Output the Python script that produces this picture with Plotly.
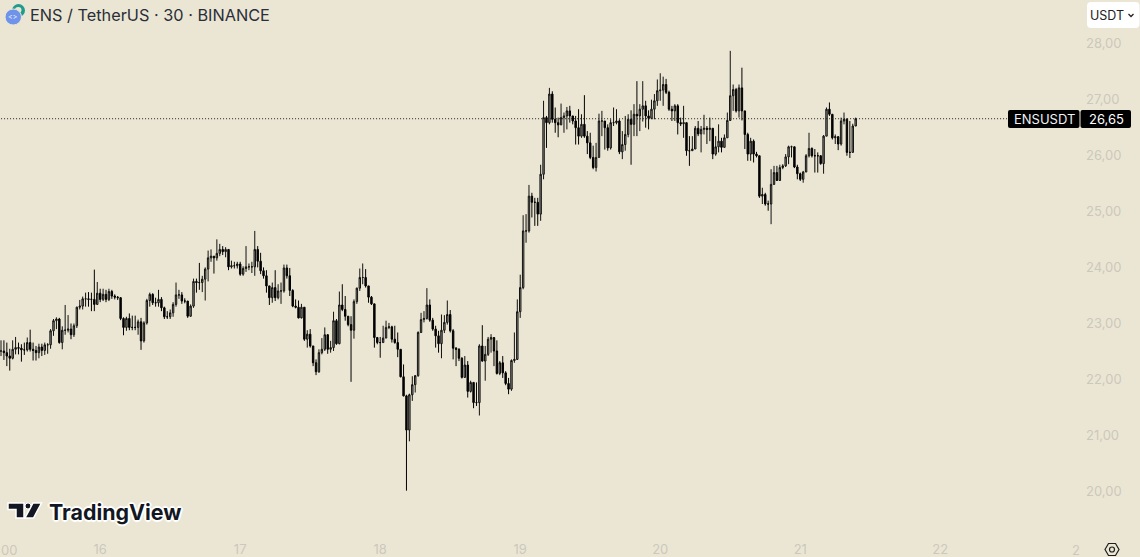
import plotly.graph_objects as go

closes = [
22.51,22.48,22.42,22.38,22.54,22.57,22.56,22.53,22.53,22.66,
22.54,22.52,22.48,22.58,22.52,22.62,22.62,22.87,23.05,23.08,
22.66,22.88,22.88,22.90,22.80,22.96,23.29,23.31,23.44,23.44,
23.43,23.43,23.34,23.54,23.43,23.52,23.43,23.57,23.49,23.47,
23.46,23.09,22.93,23.09,22.93,22.93,22.93,23.03,22.69,23.01,
23.41,23.52,23.37,23.37,23.43,23.28,23.12,23.12,23.19,23.34,
23.51,23.51,23.40,23.40,23.13,23.31,23.75,23.73,23.73,23.79,
23.97,24.17,24.20,24.17,24.25,24.32,24.28,24.32,24.01,24.03,
24.03,24.06,23.88,23.98,24.01,24.01,24.01,24.32,
24.11,23.94,23.85,23.67,23.46,23.64,23.46,23.58,23.58,23.99,
23.85,23.59,23.31,23.29,23.10,23.29,22.72,22.81,22.60,22.30,
22.14,22.48,22.54,22.80,22.54,22.57,23.05,22.64,23.33,23.25,
23.13,22.98,22.88,23.39,23.63,23.82,23.82,23.67,23.47,23.35,
22.75,22.66,22.66,22.74,22.93,22.94,22.72,22.66,22.54,22.05,
21.71,21.10,21.73,21.91,22.07,22.84,23.07,23.09,23.33,23.06,
22.90,22.78,22.64,22.88,23.02,23.16,22.87,22.56,22.54,22.38,
22.04,22.26,21.79,21.95,21.59,21.59,22.60,22.33,22.45,22.72,
22.75,22.51,22.11,22.30,22.12,21.93,21.83,22.34,22.36,23.21,23.64,
24.65,24.65,25.27,25.16,25.16,24.95,25.66,26.67,26.58,27.09,
26.64,26.58,26.54,26.67,26.70,26.79,26.70,26.61,26.49,26.34,
26.55,26.34,26.22,25.96,25.78,25.96,26.61,26.61,26.49,26.13,
26.58,26.58,26.61,26.06,26.19,26.37,26.64,26.55,26.73,26.70,
26.82,26.88,26.70,26.66,26.82,26.97,27.15,27.16,27.26,27.12,26.82,
26.79,26.88,26.58,26.56,26.58,26.08,26.08,26.11,26.48,26.38,
26.46,26.48,26.46,26.48,26.02,26.15,26.25,26.14,26.31,26.62,
27.06,27.17,26.79,27.20,26.79,26.37,26.02,26.25,26.02,25.99,
25.27,25.30,25.13,25.13,25.48,25.69,25.55,25.78,25.81,25.97,
26.15,26.15,25.79,25.67,25.57,25.70,25.99,26.12,25.99,25.99,
25.99,25.85,26.34,26.82,26.73,26.31,26.33,26.20,26.61,26.64,
26.05,26.05,26.52,26.65]

highs = [
22.70,22.70,22.66,22.55,22.70,22.76,22.66,22.63,22.66,22.75,
22.89,22.66,22.60,22.64,22.64,22.66,22.65,22.90,23.08,23.11,
23.10,22.95,23.33,23.15,23.00,23.00,23.30,23.42,23.48,23.55,
23.56,23.55,23.96,23.74,23.62,23.62,23.60,23.62,23.60,23.52,
23.49,23.47,23.11,23.12,23.18,23.14,23.14,23.07,23.10,23.04,
23.44,23.55,23.54,23.46,23.60,23.47,23.30,23.22,23.25,23.38,
23.73,23.60,23.56,23.45,23.40,23.34,23.80,23.80,24.08,23.85,
24.00,24.30,24.32,24.20,24.50,24.42,24.38,24.36,24.30,24.12,
24.10,24.10,24.10,24.02,24.38,24.07,24.10,24.65,
24.38,24.26,24.00,23.95,23.65,23.73,23.95,23.70,23.73,24.05,
24.05,23.99,23.61,23.43,23.41,23.35,23.29,22.88,22.90,22.60,
22.36,22.54,22.74,22.93,22.81,22.69,23.21,23.08,23.57,23.70,
23.49,23.13,23.13,23.43,23.64,23.98,24.07,23.97,23.67,23.49,
23.35,22.76,22.76,22.96,23.05,23.01,22.96,22.96,22.84,22.54,
22.27,21.73,21.75,22.06,22.08,22.86,23.19,23.22,23.63,23.43,
23.10,22.96,22.87,23.16,23.15,23.41,23.24,22.90,22.58,22.56,
22.40,22.42,22.33,21.98,21.95,21.95,22.63,22.97,22.60,22.76,
22.81,22.74,22.70,22.33,22.42,22.15,22.03,22.36,22.84,23.43,23.87,
24.93,24.95,25.47,25.33,25.24,25.24,25.83,26.97,26.70,27.20,
27.14,26.85,26.67,26.92,26.76,26.86,26.88,26.70,26.70,26.82,
26.73,27.07,26.43,26.40,26.17,26.22,26.74,26.79,26.61,26.55,
26.64,26.85,26.82,26.64,26.43,26.70,26.73,26.80,26.91,27.32,
26.91,27.32,26.97,26.80,26.99,27.09,27.35,27.46,27.40,27.36,27.15,
26.88,26.91,26.91,26.67,26.88,26.58,26.34,26.34,26.52,26.61,
26.52,26.72,26.52,26.67,26.48,26.34,26.55,26.31,26.37,26.76,
27.86,27.26,27.20,27.26,27.56,26.79,26.40,26.31,26.28,26.06,
25.99,25.42,25.33,25.19,25.75,25.81,25.81,25.83,25.84,26.02,
26.17,26.17,26.15,25.83,25.69,25.72,26.02,26.40,26.14,26.11,
26.05,26.00,26.36,26.85,26.94,26.73,26.37,26.34,26.67,26.76,
26.66,26.61,26.56,26.67]

lows = [
22.42,22.35,22.24,22.16,22.36,22.45,22.45,22.32,22.44,22.50,
22.50,22.34,22.34,22.38,22.42,22.44,22.46,22.55,22.78,22.90,
22.64,22.54,22.80,22.84,22.72,22.76,22.92,23.25,23.25,23.30,
23.30,23.22,23.22,23.36,23.38,23.40,23.38,23.40,23.44,23.43,
23.42,23.06,22.79,22.87,22.88,22.88,22.88,22.80,22.53,22.66,
22.98,23.30,23.33,23.30,23.30,23.22,23.08,23.08,23.08,23.12,
23.30,23.44,23.35,23.36,23.10,23.12,23.28,23.55,23.60,23.56,
23.41,23.75,24.10,23.89,24.12,24.20,24.22,24.18,23.95,23.98,
23.98,23.98,23.85,23.85,23.92,23.95,23.90,23.85,
24.00,23.88,23.80,23.55,23.33,23.37,23.40,23.43,23.35,23.55,
23.80,23.49,23.29,23.27,23.09,23.09,22.69,22.57,22.57,22.24,
22.08,22.12,22.45,22.51,22.46,22.48,22.51,22.62,22.63,23.22,
23.05,22.95,21.96,22.73,23.35,23.58,23.70,23.64,23.37,23.33,
22.57,22.63,22.39,22.69,22.74,22.90,22.66,22.64,22.40,22.04,
21.70,20.02,20.90,21.62,21.77,22.05,22.83,23.02,23.07,23.03,
22.87,22.57,22.48,22.38,22.83,22.98,22.84,22.36,22.24,22.33,
22.02,22.03,21.68,21.77,21.49,21.53,21.36,22.32,21.98,22.42,
22.48,22.24,22.09,22.08,22.03,21.90,21.74,21.80,22.30,22.35,23.10,
23.61,24.44,24.62,24.89,24.74,24.74,24.83,25.57,26.13,26.55,
26.58,26.40,26.32,26.55,26.40,26.46,26.58,26.55,26.19,26.19,
26.31,26.31,26.02,25.93,25.75,25.71,25.96,26.34,26.10,26.08,
26.10,26.52,26.55,26.02,25.93,26.08,26.32,25.83,26.34,26.34,
26.43,26.60,26.49,26.46,26.64,26.64,26.88,26.97,26.88,27.09,26.79,
26.61,26.61,26.37,26.52,26.31,25.99,25.81,26.08,26.20,26.34,
26.05,26.37,26.20,26.25,25.93,25.99,26.05,26.05,26.14,26.31,
26.61,26.79,26.76,26.67,26.62,26.11,25.90,25.90,25.87,25.96,
25.24,25.13,25.10,25.01,24.77,25.47,25.54,25.54,25.75,25.79,
25.84,25.96,25.77,25.57,25.54,25.51,25.70,25.96,25.96,25.69,
25.69,25.83,25.67,26.34,26.70,26.28,26.20,26.09,26.17,26.55,
25.99,25.95,26.33,26.52]

price_ticks = [20, 21, 22, 23, 24, 25, 26, 27, 28]
day_bars = [34, 82, 130, 178, 226, 274, 322]
day_labels = ["16", "17", "18", "19", "20", "21", "22"]
last_price = 26.65

assert len(closes) == len(highs) == len(lows), (len(closes), len(highs), len(lows))
bars = list(range(len(closes)))
opens = [closes[0]] + closes[:-1]
highs = [max(h, o, c) for h, o, c in zip(highs, opens, closes)]
lows = [min(l, o, c) for l, o, c in zip(lows, opens, closes)]

BG = "#ebe6d3"
PLOT_R = 1085.0
PLOT_B = 540.0
FONT = "Inter, Roboto, sans-serif"
TICK = "#cbc8bd"

def fx(x):
    return x / PLOT_R

def fy(y):
    return (PLOT_B - y) / PLOT_B

def path(points):
    return "M" + " L".join(f"{fx(x):.5f},{fy(y):.5f}" for x, y in points) + " Z"

def rounded(x0, y0, x1, y1, r):
    return (f"M{fx(x0 + r):.5f},{fy(y0):.5f} L{fx(x1 - r):.5f},{fy(y0):.5f} "
            f"Q{fx(x1):.5f},{fy(y0):.5f} {fx(x1):.5f},{fy(y0 + r):.5f} "
            f"L{fx(x1):.5f},{fy(y1 - r):.5f} Q{fx(x1):.5f},{fy(y1):.5f} {fx(x1 - r):.5f},{fy(y1):.5f} "
            f"L{fx(x0 + r):.5f},{fy(y1):.5f} Q{fx(x0):.5f},{fy(y1):.5f} {fx(x0):.5f},{fy(y1 - r):.5f} "
            f"L{fx(x0):.5f},{fy(y0 + r):.5f} Q{fx(x0):.5f},{fy(y0):.5f} {fx(x0 + r):.5f},{fy(y0):.5f} Z")

fig = go.Figure(go.Candlestick(
    x=bars, open=opens, high=highs, low=lows, close=closes,
    increasing=dict(line=dict(color="#111111", width=1), fillcolor="#9a988e"),
    decreasing=dict(line=dict(color="#000000", width=1), fillcolor="#000000"),
    hoverinfo="skip", showlegend=False,
))

shapes = [
    dict(type="line", xref="x", yref="y", x0=-1, x1=(1007 - 1) / 2.917, y0=last_price, y1=last_price,
         line=dict(color="#222222", width=1, dash="1px,2px"), layer="above"),
    dict(type="path", xref="paper", yref="paper", path=rounded(1087, 2, 1139.5, 28, 4),
         fillcolor="#ffffff", line=dict(width=0), layer="above"),
    dict(type="path", xref="paper", yref="paper",
         path=f"M{fx(1128.5):.5f},{fy(14):.5f} L{fx(1131):.5f},{fy(16.5):.5f} L{fx(1133.5):.5f},{fy(14):.5f}",
         line=dict(color="#222222", width=1.3), layer="above"),
    dict(type="path", xref="paper", yref="paper", path=rounded(1008, 110, 1079.5, 128, 2),
         fillcolor="#000000", line=dict(width=0), layer="above"),
    dict(type="path", xref="paper", yref="paper", path=rounded(1080.5, 110, 1131, 128, 2),
         fillcolor="#000000", line=dict(width=0), layer="above"),
    dict(type="circle", xref="paper", yref="paper", x0=fx(12), x1=fx(25), y0=fy(17), y1=fy(4),
         fillcolor="#1f9b90", line=dict(width=0), layer="above"),
    dict(type="circle", xref="paper", yref="paper", x0=fx(15), x1=fx(21.5), y0=fy(13), y1=fy(7),
         fillcolor=BG, line=dict(width=0), layer="above"),
    dict(type="circle", xref="paper", yref="paper", x0=fx(5), x1=fx(21.5), y0=fy(25), y1=fy(9),
         fillcolor="#6f93ea", line=dict(color=BG, width=1), layer="above"),
    dict(type="path", xref="paper", yref="paper",
         path=path([(8, 503), (24, 503), (24, 518), (16, 518), (16, 509.5), (8, 509.5)]),
         fillcolor="#131722", line=dict(color="#ffffff", width=1.5), layer="above"),
    dict(type="circle", xref="paper", yref="paper", x0=fx(25), x1=fx(31), y0=fy(509), y1=fy(503),
         fillcolor="#131722", line=dict(color="#ffffff", width=1), layer="above"),
    dict(type="path", xref="paper", yref="paper",
         path=path([(33, 503), (41.5, 503), (33.5, 518), (25, 518)]),
         fillcolor="#131722", line=dict(color="#ffffff", width=1.5), layer="above"),
    dict(type="path", xref="paper", yref="paper",
         path=path([(1105, 549.5), (1108.5, 543.5), (1115.5, 543.5), (1119, 549.5), (1115.5, 555.5), (1108.5, 555.5)]),
         line=dict(color="#1d1d1d", width=1.2), layer="above"),
    dict(type="circle", xref="paper", yref="paper", x0=fx(1109.5), x1=fx(1114.5), y0=fy(552), y1=fy(547),
         line=dict(color="#1d1d1d", width=1.2), layer="above"),
]

def label(text, x, y, size, color, anchor="left", **font):
    return dict(text=text, xref="paper", yref="paper", x=fx(x), y=fy(y), xanchor=anchor, yanchor="middle",
                showarrow=False, font=dict(family=FONT, size=size, color=color, **font), borderpad=0)

halo = ", ".join(f"{a}px {b}px 1px #ffffff" for a, b in [(2, 0), (-2, 0), (0, 2), (0, -2), (1, 1), (-1, -1), (1, -1), (-1, 1)])
annotations = [
    label("ENS / TetherUS · 30 · BINANCE", 29, 15, 16.3, "#2a2e39"),
    label("USDT", 1089, 15.5, 12.5, "#222222"),
    label("ENSUSDT", 1044, 119, 13, "#f2f2f2", "center"),
    label("26,65", 1106, 119, 13, "#ffffff", "center"),
    label("&lt;&gt;", 13.2, 17, 7, "#ffffff", "center"),
    label("<b>TradingView</b>", 48, 511.5, 21.4, "#131722", shadow=halo),
    label("00", 0, 550, 13, TICK),
    label("2", 1071, 550, 13, TICK),
]

fig.update_layout(
    width=1140, height=557, autosize=False,
    margin=dict(l=0, r=1140 - PLOT_R, t=0, b=557 - PLOT_B),
    paper_bgcolor=BG, plot_bgcolor=BG, separators=", ",
    font=dict(family=FONT, size=13, color=TICK),
    showlegend=False,
    xaxis=dict(range=[-1 / 2.917, (PLOT_R - 1) / 2.917], rangeslider=dict(visible=False), showgrid=False,
               zeroline=False, showline=False, ticks="", tickmode="array", tickvals=day_bars,
               ticktext=day_labels, tickfont=dict(size=13, color=TICK)),
    yaxis=dict(range=[28 - 497 / 56.1, 28 + 43 / 56.1], side="right", showgrid=False, zeroline=False,
               showline=False, ticks="", tickmode="array", tickvals=price_ticks, tickformat=".2f",
               tickfont=dict(size=13, color=TICK)),
    shapes=shapes, annotations=annotations,
)

fig.write_html("out.html", config=dict(displayModeBar=False),
               post_script="document.body.style.margin='0';document.documentElement.style.background='#ebe6d3';document.body.style.overflow='hidden';window.dispatchEvent(new Event('resize'));")
